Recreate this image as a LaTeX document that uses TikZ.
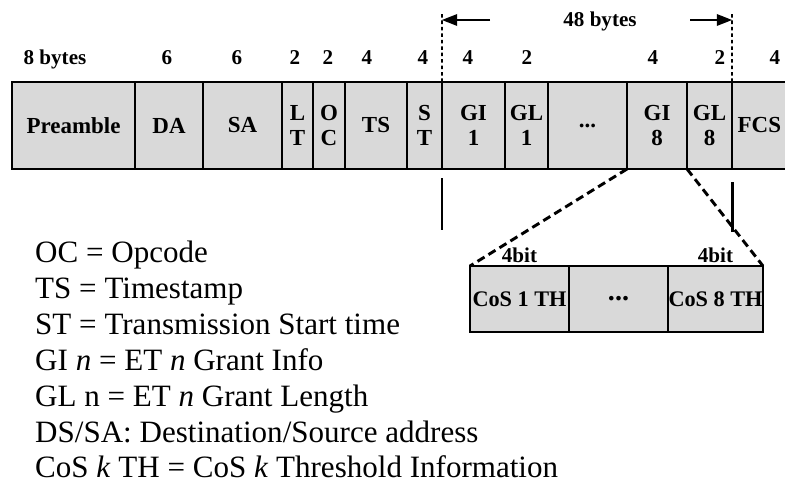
\documentclass[tikz,border=0pt]{standalone}
\usepackage{fontspec}
\setmainfont{Liberation Serif}
\usetikzlibrary{positioning, arrows.meta}

\begin{document}
\begin{tikzpicture}[
    x=0.03cm, y=-0.03cm,
    node distance=0pt,
    field/.style={draw, line width=2pt, fill=black!15, minimum height=2.61cm, inner sep=0pt, outer sep=0pt, align=center, font=\fontsize{19.6}{21}\selectfont\bfseries},
    subfield/.style={draw, line width=2pt, fill=black!15, minimum height=1.98cm, inner sep=0pt, outer sep=0pt, font=\fontsize{19}{21}\selectfont\bfseries},
    sizelabel/.style={anchor=base, inner sep=0pt, font=\fontsize{18}{20}\selectfont\bfseries},
    legendtext/.style={anchor=base west, inner sep=0pt, font=\fontsize{26.5}{30}\selectfont},
    boundary/.style={line width=1.5pt, dash pattern=on 3pt off 2.5pt},
    lenarrow/.style={line width=1pt, -{Triangle[length=13pt, width=10pt]}},
    zoomline/.style={line width=2.5pt, dash pattern=on 7pt off 4pt},
    tickline/.style={line width=2.5pt}
]
\useasboundingbox (0,0) rectangle (785,488);

% Frame fields
\node[field, minimum width=3.69cm, anchor=north west] (pre) at (12,82) {Preamble};
\node[field, minimum width=2.04cm] (da) [right=of pre] {DA};
\node[field, minimum width=2.37cm] (sa) [right=of da] {SA};
\node[field, minimum width=0.93cm] (lt) [right=of sa] {L\\T};
\node[field, minimum width=0.96cm] (oc) [right=of lt] {O\\C};
\node[field, minimum width=1.86cm] (ts) [right=of oc] {TS};
\node[field, minimum width=1.05cm] (st) [right=of ts] {S\\T};
\node[field, minimum width=1.89cm] (gi1) [right=of st] {GI\\1};
\node[field, minimum width=1.29cm] (gl1) [right=of gi1] {GL\\1};
\node[field, minimum width=2.37cm] (gdots) [right=of gl1] {...};
\node[field, minimum width=1.80cm] (gi8) [right=of gdots] {GI\\8};
\node[field, minimum width=1.35cm] (gl8) [right=of gi8] {GL\\8};
\node[field, minimum width=1.64cm] (fcs) [right=of gl8] {FCS};

% Field sizes
\foreach \x/\t [count=\i] in {55/8 bytes, 167/6, 237/6, 295/2, 328/2, 367/4, 423/4, 468/4, 527/2, 653/4, 720/2, 775/4}
    \node[sizelabel] (size\i) at (\x,65) {\t};

% 48 bytes span
\coordinate (ltop) at (442,12);
\coordinate (rtop) at (732,12);
\node[sizelabel] (bytes48) at (600,27) {48 bytes};
\coordinate (larrow) at (490,20);
\coordinate (rarrow) at (690,20);

\draw[boundary] (gi1.north west) -- (ltop);
\draw[boundary] (fcs.north west) -- (rtop);
\draw[lenarrow] (larrow) -- (larrow -| ltop);
\draw[lenarrow] (rarrow) -- (rarrow -| rtop);

\draw[tickline] ([yshift=-0.27cm]gi1.south west) -- ++(0,52);
\draw[tickline] ([yshift=-0.39cm]fcs.south west) -- ++(0,50);

% CoS thresholds
\node[subfield, minimum width=2.97cm, anchor=north west] (cos1) at (470,266) {CoS 1 TH};
\node[subfield, minimum width=2.97cm, font=\fontsize{24}{26}\selectfont\bfseries] (cosdots) [right=of cos1] {...};
\node[subfield, minimum width=2.85cm] (cos8) [right=of cosdots] {CoS 8 TH};

\node[inner sep=0pt, anchor=south, font=\fontsize{18}{20}\selectfont\bfseries] (bit1) [above=0.1cm of cos1] {4bit};
\node[inner sep=0pt, anchor=south, font=\fontsize{18}{20}\selectfont\bfseries] (bit8) [above=0.1cm of cos8] {4bit};

\draw[zoomline] (gi8.south west) -- (cos1.north west);
\draw[zoomline] (gl8.south west) -- (cos8.north east);

% Legend
\foreach \txt [count=\i from 0] in {OC = Opcode, TS = Timestamp, ST = Transmission Start time, GI \textit{n} = ET \textit{n} Grant Info, GL n = ET \textit{n} Grant Length, DS/SA: Destination/Source address, CoS \textit{k} TH = CoS \textit{k} Threshold Information}
    \node[legendtext] (legend\i) at (35,263+35.8*\i) {\txt};

\end{tikzpicture}
\end{document}
